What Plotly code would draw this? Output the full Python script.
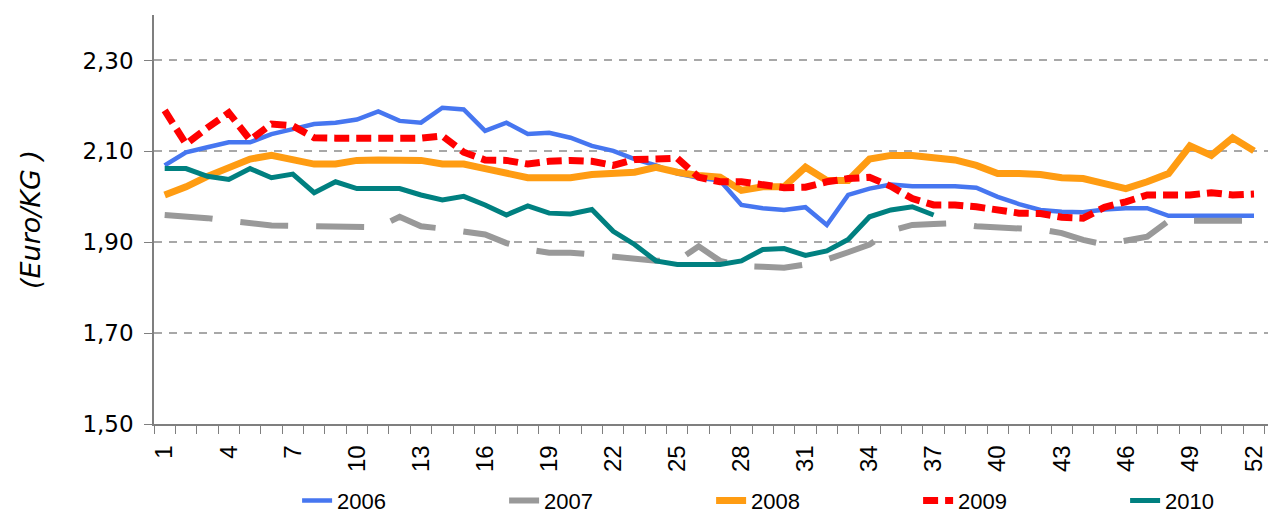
import plotly.graph_objects as go

weeks = list(range(1, 53))

y2006 = [2.069, 2.098, 2.109, 2.120, 2.120, 2.138, 2.149, 2.160, 2.163, 2.170,
         2.188, 2.167, 2.163, 2.196, 2.192, 2.145, 2.163, 2.138, 2.141, 2.130,
         2.112, 2.101, 2.083, 2.069, 2.051, 2.042, 2.036, 1.982, 1.975, 1.971,
         1.977, 1.938, 2.004, 2.018, 2.027, 2.023, 2.023, 2.023, 2.020, 2.000,
         1.984, 1.971, 1.967, 1.966, 1.972, 1.975, 1.975, 1.958, 1.958, 1.958,
         1.958, 1.958]

y2007 = [1.960, 1.958, 1.953, 1.947, 1.942, 1.937, 1.936, 1.935, 1.933, 1.933,
         1.933, 1.956, 1.935, 1.930, 1.924, 1.917, 1.898, 1.884, 1.877, 1.877,
         1.873, 1.868, 1.862, 1.859, 1.859, 1.891, 1.859, 1.848, 1.846, 1.844,
         1.851, 1.862, 1.878, 1.895, 1.925, 1.938, 1.940, 1.942, 1.935, 1.933,
         1.933, 1.928, 1.920, 1.905, 1.895, 1.905, 1.912, 1.947, 1.947, 1.947,
         1.947, 1.947]

y2008 = [2.004, 2.022, 2.045, 2.062, 2.083, 2.091, 2.083, 2.072, 2.072, 2.080,
         2.081, 2.081, 2.080, 2.072, 2.072, 2.062, 2.051, 2.042, 2.042, 2.042,
         2.049, 2.052, 2.054, 2.065, 2.054, 2.047, 2.043, 2.014, 2.022, 2.022,
         2.065, 2.036, 2.036, 2.083, 2.091, 2.091, 2.085, 2.081, 2.069, 2.051,
         2.051, 2.049, 2.042, 2.040, 2.029, 2.018, 2.033, 2.051, 2.112, 2.091,
         2.130, 2.101]

y2009 = [2.190, 2.116, 2.152, 2.185, 2.125, 2.160, 2.156, 2.130, 2.129, 2.129,
         2.129, 2.129, 2.129, 2.134, 2.098, 2.081, 2.080, 2.072, 2.078, 2.080,
         2.078, 2.069, 2.082, 2.083, 2.085, 2.043, 2.033, 2.033, 2.025, 2.020,
         2.021, 2.033, 2.040, 2.043, 2.023, 1.996, 1.982, 1.982, 1.978, 1.971,
         1.964, 1.963, 1.955, 1.953, 1.977, 1.989, 2.004, 2.004, 2.004, 2.009,
         2.004, 2.006]

y2010 = [2.062, 2.062, 2.045, 2.038, 2.062, 2.042, 2.050, 2.009, 2.033, 2.018,
         2.018, 2.018, 2.004, 1.993, 2.001, 1.982, 1.960, 1.980, 1.964, 1.962,
         1.972, 1.924, 1.895, 1.859, 1.851, 1.851, 1.851, 1.859, 1.884, 1.886,
         1.871, 1.881, 1.906, 1.956, 1.971, 1.978, 1.960]

x_tick_weeks = list(range(1, 53, 3))
x_tick_labels = [str(w) for w in x_tick_weeks]
y_tick_vals = [1.50, 1.70, 1.90, 2.10, 2.30]
y_tick_labels = ["1,50", "1,70", "1,90", "2,10", "2,30"]
y_title = "(Euro/KG )"

series = [
    ("2006", y2006, dict(color="#4676F0", width=4.5)),
    ("2007", y2007, dict(color="#999999", width=6, dash="48px,28px")),
    ("2008", y2008, dict(color="#FF9C12", width=7)),
    ("2009", y2009, dict(color="#FF0000", width=7, dash="15px,7px")),
    ("2010", y2010, dict(color="#008080", width=5)),
]

fig = go.Figure()
for name, ys, line in series:
    fig.add_trace(go.Scatter(x=weeks[:len(ys)], y=ys, mode="lines", name=name,
                             line=line))

# page body has an 8px default margin, so the figure is 8px smaller than the window
fig.update_layout(
    width=1268, height=508,
    margin=dict(l=146, r=0, t=7, b=92, autoexpand=False),
    plot_bgcolor="white", paper_bgcolor="white",
    showlegend=True,
    legend=dict(orientation="h", xref="container", yref="container",
                x=0.228, xanchor="left", y=0.03, yanchor="middle",
                font=dict(family="Liberation Sans, Arial", size=22, color="black"),
                entrywidth=162, entrywidthmode="pixels", bgcolor="rgba(0,0,0,0)"),
)

fig.update_xaxes(
    range=[0.5, 53.03], tickmode="array", tickvals=x_tick_weeks, ticktext=x_tick_labels,
    tickangle=-90, ticks="", showgrid=False, zeroline=False, automargin=False,
    showline=True, linecolor="#7f7f7f", linewidth=1.5,
    tickfont=dict(family="Liberation Sans, Arial", size=24, color="black"),
    ticklabelstandoff=10,
    minor=dict(tickmode="linear", tick0=0.5, dtick=1, ticks="outside", ticklen=8,
               tickcolor="#7f7f7f", tickwidth=1.2, showgrid=False),
)

fig.update_yaxes(
    range=[1.5, 2.4], tickmode="array", tickvals=y_tick_vals, ticktext=y_tick_labels,
    ticks="outside", ticklen=8, tickcolor="#7f7f7f", tickwidth=1.2, automargin=False,
    showline=True, linecolor="#7f7f7f", linewidth=1.5, zeroline=False,
    showgrid=True, gridcolor="#a8a8a8", gridwidth=1.5, griddash="8px,7px",
    tickfont=dict(family="DejaVu Sans, Verdana", size=23, color="black"),
    ticklabelstandoff=6,
)

fig.add_annotation(text=y_title, xref="paper", yref="paper", x=-0.11, y=0.5,
                   textangle=-90, showarrow=False, xanchor="center", yanchor="middle",
                   font=dict(family="DejaVu Sans, Verdana", size=27, color="black",
                             style="italic"))

fig.write_html("out.html")
